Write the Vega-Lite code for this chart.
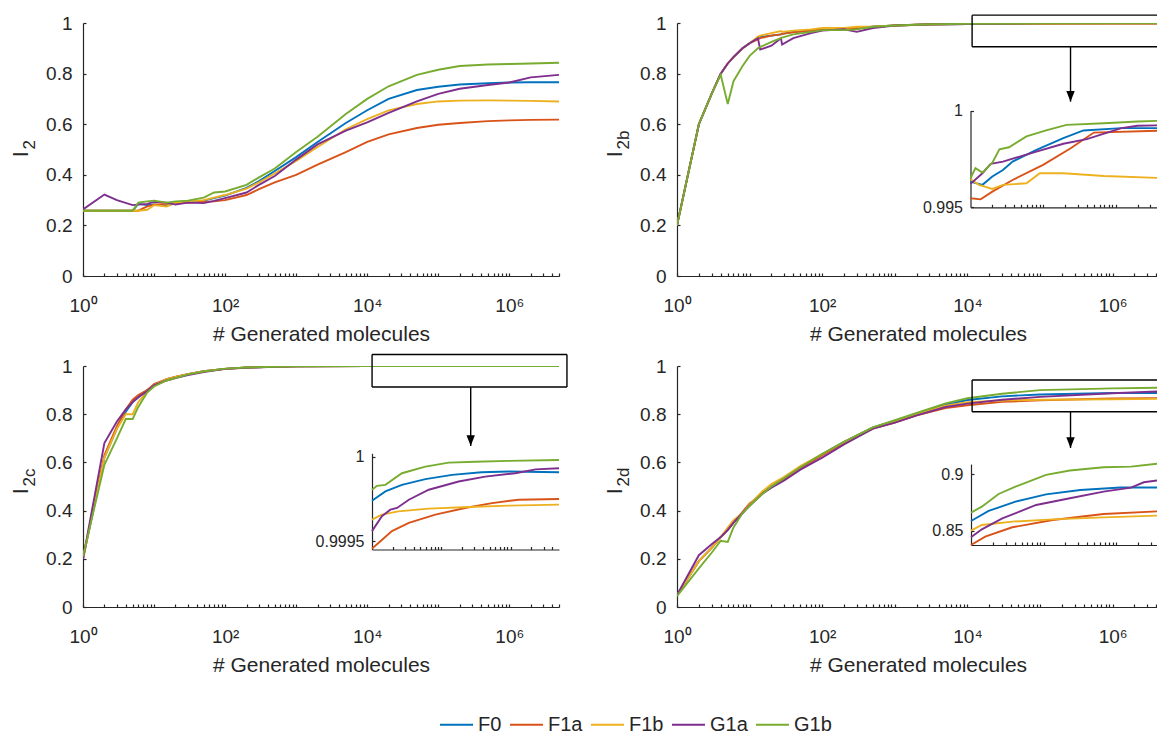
{
 "$schema": "https://vega.github.io/schema/vega-lite/v6.json",
 "padding": {"left": 9, "top": 14, "right": 0, "bottom": 0},
 "columns": 2,
 "spacing": {"row": 90, "column": 118},
 "bounds": "flush",
 "datasets": {
  "main": [
   {"p":"a","s":"F0","n":1,"v":0.258},{"p":"a","s":"F0","n":2,"v":0.258},{"p":"a","s":"F0","n":3,"v":0.258},{"p":"a","s":"F0","n":5,"v":0.258},{"p":"a","s":"F0","n":6,"v":0.285},{"p":"a","s":"F0","n":8,"v":0.28},{"p":"a","s":"F0","n":10,"v":0.283},{"p":"a","s":"F0","n":15,"v":0.278},{"p":"a","s":"F0","n":20,"v":0.288},{"p":"a","s":"F0","n":30,"v":0.292},{"p":"a","s":"F0","n":50,"v":0.298},{"p":"a","s":"F0","n":70,"v":0.308},{"p":"a","s":"F0","n":100,"v":0.318},{"p":"a","s":"F0","n":200,"v":0.348},{"p":"a","s":"F0","n":300,"v":0.375},{"p":"a","s":"F0","n":500,"v":0.415},{"p":"a","s":"F0","n":1000,"v":0.47},{"p":"a","s":"F0","n":2000,"v":0.53},{"p":"a","s":"F0","n":5000,"v":0.605},{"p":"a","s":"F0","n":10000,"v":0.655},{"p":"a","s":"F0","n":20000,"v":0.7},{"p":"a","s":"F0","n":50000,"v":0.735},{"p":"a","s":"F0","n":100000,"v":0.748},{"p":"a","s":"F0","n":200000,"v":0.757},{"p":"a","s":"F0","n":500000,"v":0.762},{"p":"a","s":"F0","n":1000000,"v":0.765},{"p":"a","s":"F0","n":2000000,"v":0.766},{"p":"a","s":"F0","n":5000000,"v":0.766},
   {"p":"a","s":"F1a","n":1,"v":0.258},{"p":"a","s":"F1a","n":2,"v":0.258},{"p":"a","s":"F1a","n":3,"v":0.258},{"p":"a","s":"F1a","n":5,"v":0.258},{"p":"a","s":"F1a","n":6,"v":0.258},{"p":"a","s":"F1a","n":8,"v":0.275},{"p":"a","s":"F1a","n":10,"v":0.282},{"p":"a","s":"F1a","n":15,"v":0.285},{"p":"a","s":"F1a","n":20,"v":0.288},{"p":"a","s":"F1a","n":30,"v":0.29},{"p":"a","s":"F1a","n":50,"v":0.293},{"p":"a","s":"F1a","n":70,"v":0.295},{"p":"a","s":"F1a","n":100,"v":0.3},{"p":"a","s":"F1a","n":200,"v":0.32},{"p":"a","s":"F1a","n":300,"v":0.343},{"p":"a","s":"F1a","n":500,"v":0.37},{"p":"a","s":"F1a","n":1000,"v":0.4},{"p":"a","s":"F1a","n":2000,"v":0.44},{"p":"a","s":"F1a","n":5000,"v":0.49},{"p":"a","s":"F1a","n":10000,"v":0.53},{"p":"a","s":"F1a","n":20000,"v":0.56},{"p":"a","s":"F1a","n":50000,"v":0.585},{"p":"a","s":"F1a","n":100000,"v":0.598},{"p":"a","s":"F1a","n":200000,"v":0.605},{"p":"a","s":"F1a","n":500000,"v":0.612},{"p":"a","s":"F1a","n":1000000,"v":0.615},{"p":"a","s":"F1a","n":2000000,"v":0.617},{"p":"a","s":"F1a","n":5000000,"v":0.618},
   {"p":"a","s":"F1b","n":1,"v":0.258},{"p":"a","s":"F1b","n":2,"v":0.258},{"p":"a","s":"F1b","n":3,"v":0.258},{"p":"a","s":"F1b","n":5,"v":0.258},{"p":"a","s":"F1b","n":6,"v":0.258},{"p":"a","s":"F1b","n":8,"v":0.262},{"p":"a","s":"F1b","n":10,"v":0.28},{"p":"a","s":"F1b","n":15,"v":0.275},{"p":"a","s":"F1b","n":20,"v":0.29},{"p":"a","s":"F1b","n":30,"v":0.295},{"p":"a","s":"F1b","n":50,"v":0.3},{"p":"a","s":"F1b","n":70,"v":0.31},{"p":"a","s":"F1b","n":100,"v":0.32},{"p":"a","s":"F1b","n":200,"v":0.345},{"p":"a","s":"F1b","n":300,"v":0.37},{"p":"a","s":"F1b","n":500,"v":0.405},{"p":"a","s":"F1b","n":1000,"v":0.455},{"p":"a","s":"F1b","n":2000,"v":0.51},{"p":"a","s":"F1b","n":5000,"v":0.58},{"p":"a","s":"F1b","n":10000,"v":0.62},{"p":"a","s":"F1b","n":20000,"v":0.655},{"p":"a","s":"F1b","n":50000,"v":0.68},{"p":"a","s":"F1b","n":100000,"v":0.69},{"p":"a","s":"F1b","n":200000,"v":0.693},{"p":"a","s":"F1b","n":500000,"v":0.694},{"p":"a","s":"F1b","n":1000000,"v":0.693},{"p":"a","s":"F1b","n":2000000,"v":0.692},{"p":"a","s":"F1b","n":5000000,"v":0.69},
   {"p":"a","s":"G1a","n":1,"v":0.263},{"p":"a","s":"G1a","n":2,"v":0.322},{"p":"a","s":"G1a","n":3,"v":0.3},{"p":"a","s":"G1a","n":5,"v":0.28},{"p":"a","s":"G1a","n":6,"v":0.282},{"p":"a","s":"G1a","n":8,"v":0.285},{"p":"a","s":"G1a","n":10,"v":0.293},{"p":"a","s":"G1a","n":15,"v":0.29},{"p":"a","s":"G1a","n":20,"v":0.282},{"p":"a","s":"G1a","n":30,"v":0.29},{"p":"a","s":"G1a","n":50,"v":0.288},{"p":"a","s":"G1a","n":70,"v":0.297},{"p":"a","s":"G1a","n":100,"v":0.308},{"p":"a","s":"G1a","n":200,"v":0.33},{"p":"a","s":"G1a","n":300,"v":0.36},{"p":"a","s":"G1a","n":500,"v":0.395},{"p":"a","s":"G1a","n":1000,"v":0.46},{"p":"a","s":"G1a","n":2000,"v":0.52},{"p":"a","s":"G1a","n":5000,"v":0.575},{"p":"a","s":"G1a","n":10000,"v":0.607},{"p":"a","s":"G1a","n":20000,"v":0.645},{"p":"a","s":"G1a","n":50000,"v":0.69},{"p":"a","s":"G1a","n":100000,"v":0.72},{"p":"a","s":"G1a","n":200000,"v":0.74},{"p":"a","s":"G1a","n":500000,"v":0.755},{"p":"a","s":"G1a","n":1000000,"v":0.765},{"p":"a","s":"G1a","n":2000000,"v":0.785},{"p":"a","s":"G1a","n":5000000,"v":0.795},
   {"p":"a","s":"G1b","n":1,"v":0.258},{"p":"a","s":"G1b","n":2,"v":0.258},{"p":"a","s":"G1b","n":3,"v":0.258},{"p":"a","s":"G1b","n":5,"v":0.258},{"p":"a","s":"G1b","n":6,"v":0.29},{"p":"a","s":"G1b","n":8,"v":0.295},{"p":"a","s":"G1b","n":10,"v":0.298},{"p":"a","s":"G1b","n":15,"v":0.29},{"p":"a","s":"G1b","n":20,"v":0.295},{"p":"a","s":"G1b","n":30,"v":0.298},{"p":"a","s":"G1b","n":50,"v":0.31},{"p":"a","s":"G1b","n":70,"v":0.33},{"p":"a","s":"G1b","n":100,"v":0.334},{"p":"a","s":"G1b","n":200,"v":0.36},{"p":"a","s":"G1b","n":300,"v":0.39},{"p":"a","s":"G1b","n":500,"v":0.425},{"p":"a","s":"G1b","n":1000,"v":0.49},{"p":"a","s":"G1b","n":2000,"v":0.55},{"p":"a","s":"G1b","n":5000,"v":0.64},{"p":"a","s":"G1b","n":10000,"v":0.7},{"p":"a","s":"G1b","n":20000,"v":0.75},{"p":"a","s":"G1b","n":50000,"v":0.795},{"p":"a","s":"G1b","n":100000,"v":0.815},{"p":"a","s":"G1b","n":200000,"v":0.83},{"p":"a","s":"G1b","n":500000,"v":0.836},{"p":"a","s":"G1b","n":1000000,"v":0.838},{"p":"a","s":"G1b","n":2000000,"v":0.84},{"p":"a","s":"G1b","n":5000000,"v":0.843},

   {"p":"b","s":"F0","n":1,"v":0.2},{"p":"b","s":"F0","n":2,"v":0.6},{"p":"b","s":"F0","n":3,"v":0.72},{"p":"b","s":"F0","n":4,"v":0.8},{"p":"b","s":"F0","n":5,"v":0.84},{"p":"b","s":"F0","n":6,"v":0.865},{"p":"b","s":"F0","n":8,"v":0.9},{"p":"b","s":"F0","n":10,"v":0.92},{"p":"b","s":"F0","n":13,"v":0.94},{"p":"b","s":"F0","n":14,"v":0.945},{"p":"b","s":"F0","n":20,"v":0.95},{"p":"b","s":"F0","n":27,"v":0.955},{"p":"b","s":"F0","n":28,"v":0.957},{"p":"b","s":"F0","n":40,"v":0.965},{"p":"b","s":"F0","n":70,"v":0.97},{"p":"b","s":"F0","n":100,"v":0.975},{"p":"b","s":"F0","n":200,"v":0.975},{"p":"b","s":"F0","n":300,"v":0.98},{"p":"b","s":"F0","n":500,"v":0.985},{"p":"b","s":"F0","n":1000,"v":0.99},{"p":"b","s":"F0","n":3000,"v":0.994},{"p":"b","s":"F0","n":10000,"v":0.9963},{"p":"b","s":"F0","n":100000,"v":0.9985},{"p":"b","s":"F0","n":1000000,"v":0.9991},{"p":"b","s":"F0","n":5000000,"v":0.9991},
   {"p":"b","s":"F1a","n":1,"v":0.2},{"p":"b","s":"F1a","n":2,"v":0.6},{"p":"b","s":"F1a","n":3,"v":0.72},{"p":"b","s":"F1a","n":4,"v":0.8},{"p":"b","s":"F1a","n":5,"v":0.84},{"p":"b","s":"F1a","n":6,"v":0.865},{"p":"b","s":"F1a","n":8,"v":0.9},{"p":"b","s":"F1a","n":10,"v":0.92},{"p":"b","s":"F1a","n":13,"v":0.935},{"p":"b","s":"F1a","n":14,"v":0.94},{"p":"b","s":"F1a","n":20,"v":0.95},{"p":"b","s":"F1a","n":27,"v":0.955},{"p":"b","s":"F1a","n":28,"v":0.957},{"p":"b","s":"F1a","n":40,"v":0.963},{"p":"b","s":"F1a","n":70,"v":0.97},{"p":"b","s":"F1a","n":100,"v":0.975},{"p":"b","s":"F1a","n":200,"v":0.978},{"p":"b","s":"F1a","n":300,"v":0.98},{"p":"b","s":"F1a","n":500,"v":0.985},{"p":"b","s":"F1a","n":1000,"v":0.99},{"p":"b","s":"F1a","n":3000,"v":0.994},{"p":"b","s":"F1a","n":10000,"v":0.9955},{"p":"b","s":"F1a","n":100000,"v":0.9972},{"p":"b","s":"F1a","n":1000000,"v":0.999},{"p":"b","s":"F1a","n":5000000,"v":0.999},
   {"p":"b","s":"F1b","n":1,"v":0.2},{"p":"b","s":"F1b","n":2,"v":0.6},{"p":"b","s":"F1b","n":3,"v":0.72},{"p":"b","s":"F1b","n":4,"v":0.8},{"p":"b","s":"F1b","n":5,"v":0.84},{"p":"b","s":"F1b","n":6,"v":0.865},{"p":"b","s":"F1b","n":8,"v":0.9},{"p":"b","s":"F1b","n":10,"v":0.92},{"p":"b","s":"F1b","n":13,"v":0.945},{"p":"b","s":"F1b","n":14,"v":0.95},{"p":"b","s":"F1b","n":20,"v":0.96},{"p":"b","s":"F1b","n":27,"v":0.968},{"p":"b","s":"F1b","n":28,"v":0.965},{"p":"b","s":"F1b","n":40,"v":0.97},{"p":"b","s":"F1b","n":70,"v":0.975},{"p":"b","s":"F1b","n":100,"v":0.98},{"p":"b","s":"F1b","n":200,"v":0.98},{"p":"b","s":"F1b","n":300,"v":0.985},{"p":"b","s":"F1b","n":500,"v":0.985},{"p":"b","s":"F1b","n":1000,"v":0.99},{"p":"b","s":"F1b","n":3000,"v":0.995},{"p":"b","s":"F1b","n":10000,"v":0.9965},{"p":"b","s":"F1b","n":100000,"v":0.9968},{"p":"b","s":"F1b","n":1000000,"v":0.9966},{"p":"b","s":"F1b","n":5000000,"v":0.9965},
   {"p":"b","s":"G1a","n":1,"v":0.2},{"p":"b","s":"G1a","n":2,"v":0.6},{"p":"b","s":"G1a","n":3,"v":0.72},{"p":"b","s":"G1a","n":4,"v":0.8},{"p":"b","s":"G1a","n":5,"v":0.84},{"p":"b","s":"G1a","n":6,"v":0.865},{"p":"b","s":"G1a","n":8,"v":0.9},{"p":"b","s":"G1a","n":10,"v":0.92},{"p":"b","s":"G1a","n":13,"v":0.94},{"p":"b","s":"G1a","n":14,"v":0.895},{"p":"b","s":"G1a","n":20,"v":0.91},{"p":"b","s":"G1a","n":27,"v":0.94},{"p":"b","s":"G1a","n":28,"v":0.915},{"p":"b","s":"G1a","n":40,"v":0.94},{"p":"b","s":"G1a","n":70,"v":0.96},{"p":"b","s":"G1a","n":100,"v":0.97},{"p":"b","s":"G1a","n":200,"v":0.975},{"p":"b","s":"G1a","n":300,"v":0.965},{"p":"b","s":"G1a","n":500,"v":0.98},{"p":"b","s":"G1a","n":1000,"v":0.99},{"p":"b","s":"G1a","n":3000,"v":0.995},{"p":"b","s":"G1a","n":10000,"v":0.9962},{"p":"b","s":"G1a","n":100000,"v":0.9985},{"p":"b","s":"G1a","n":1000000,"v":0.9991},{"p":"b","s":"G1a","n":5000000,"v":0.9992},
   {"p":"b","s":"G1b","n":1,"v":0.2},{"p":"b","s":"G1b","n":2,"v":0.6},{"p":"b","s":"G1b","n":3,"v":0.72},{"p":"b","s":"G1b","n":4,"v":0.795},{"p":"b","s":"G1b","n":5,"v":0.68},{"p":"b","s":"G1b","n":6,"v":0.77},{"p":"b","s":"G1b","n":8,"v":0.83},{"p":"b","s":"G1b","n":10,"v":0.87},{"p":"b","s":"G1b","n":13,"v":0.9},{"p":"b","s":"G1b","n":14,"v":0.905},{"p":"b","s":"G1b","n":20,"v":0.925},{"p":"b","s":"G1b","n":27,"v":0.94},{"p":"b","s":"G1b","n":28,"v":0.942},{"p":"b","s":"G1b","n":40,"v":0.955},{"p":"b","s":"G1b","n":70,"v":0.965},{"p":"b","s":"G1b","n":100,"v":0.972},{"p":"b","s":"G1b","n":200,"v":0.972},{"p":"b","s":"G1b","n":300,"v":0.975},{"p":"b","s":"G1b","n":500,"v":0.985},{"p":"b","s":"G1b","n":1000,"v":0.99},{"p":"b","s":"G1b","n":3000,"v":0.995},{"p":"b","s":"G1b","n":10000,"v":0.9965},{"p":"b","s":"G1b","n":100000,"v":0.999},{"p":"b","s":"G1b","n":1000000,"v":0.9994},{"p":"b","s":"G1b","n":5000000,"v":0.9995},

   {"p":"c","s":"F0","n":1,"v":0.2},{"p":"c","s":"F0","n":2,"v":0.62},{"p":"c","s":"F0","n":3,"v":0.74},{"p":"c","s":"F0","n":4,"v":0.81},{"p":"c","s":"F0","n":5,"v":0.85},{"p":"c","s":"F0","n":6,"v":0.87},{"p":"c","s":"F0","n":8,"v":0.9},{"p":"c","s":"F0","n":10,"v":0.92},{"p":"c","s":"F0","n":15,"v":0.945},{"p":"c","s":"F0","n":20,"v":0.955},{"p":"c","s":"F0","n":30,"v":0.966},{"p":"c","s":"F0","n":50,"v":0.978},{"p":"c","s":"F0","n":100,"v":0.988},{"p":"c","s":"F0","n":200,"v":0.994},{"p":"c","s":"F0","n":500,"v":0.997},{"p":"c","s":"F0","n":1000,"v":0.9985},{"p":"c","s":"F0","n":10000,"v":0.99974},{"p":"c","s":"F0","n":100000,"v":0.9999},{"p":"c","s":"F0","n":1000000,"v":0.99991},{"p":"c","s":"F0","n":5000000,"v":0.99991},
   {"p":"c","s":"F1a","n":1,"v":0.2},{"p":"c","s":"F1a","n":2,"v":0.63},{"p":"c","s":"F1a","n":3,"v":0.75},{"p":"c","s":"F1a","n":4,"v":0.82},{"p":"c","s":"F1a","n":5,"v":0.86},{"p":"c","s":"F1a","n":6,"v":0.88},{"p":"c","s":"F1a","n":8,"v":0.9},{"p":"c","s":"F1a","n":10,"v":0.925},{"p":"c","s":"F1a","n":15,"v":0.945},{"p":"c","s":"F1a","n":20,"v":0.955},{"p":"c","s":"F1a","n":30,"v":0.966},{"p":"c","s":"F1a","n":50,"v":0.978},{"p":"c","s":"F1a","n":100,"v":0.988},{"p":"c","s":"F1a","n":200,"v":0.994},{"p":"c","s":"F1a","n":500,"v":0.997},{"p":"c","s":"F1a","n":1000,"v":0.9985},{"p":"c","s":"F1a","n":10000,"v":0.99946},{"p":"c","s":"F1a","n":100000,"v":0.99967},{"p":"c","s":"F1a","n":1000000,"v":0.99974},{"p":"c","s":"F1a","n":5000000,"v":0.99975},
   {"p":"c","s":"F1b","n":1,"v":0.2},{"p":"c","s":"F1b","n":2,"v":0.62},{"p":"c","s":"F1b","n":3,"v":0.74},{"p":"c","s":"F1b","n":4,"v":0.8},{"p":"c","s":"F1b","n":5,"v":0.8},{"p":"c","s":"F1b","n":6,"v":0.85},{"p":"c","s":"F1b","n":8,"v":0.895},{"p":"c","s":"F1b","n":10,"v":0.92},{"p":"c","s":"F1b","n":15,"v":0.945},{"p":"c","s":"F1b","n":20,"v":0.955},{"p":"c","s":"F1b","n":30,"v":0.966},{"p":"c","s":"F1b","n":50,"v":0.978},{"p":"c","s":"F1b","n":100,"v":0.988},{"p":"c","s":"F1b","n":200,"v":0.994},{"p":"c","s":"F1b","n":500,"v":0.997},{"p":"c","s":"F1b","n":1000,"v":0.9985},{"p":"c","s":"F1b","n":10000,"v":0.99963},{"p":"c","s":"F1b","n":100000,"v":0.9997},{"p":"c","s":"F1b","n":1000000,"v":0.99971},{"p":"c","s":"F1b","n":5000000,"v":0.99972},
   {"p":"c","s":"G1a","n":1,"v":0.2},{"p":"c","s":"G1a","n":2,"v":0.68},{"p":"c","s":"G1a","n":3,"v":0.77},{"p":"c","s":"G1a","n":4,"v":0.82},{"p":"c","s":"G1a","n":5,"v":0.85},{"p":"c","s":"G1a","n":6,"v":0.87},{"p":"c","s":"G1a","n":8,"v":0.895},{"p":"c","s":"G1a","n":10,"v":0.92},{"p":"c","s":"G1a","n":15,"v":0.94},{"p":"c","s":"G1a","n":20,"v":0.95},{"p":"c","s":"G1a","n":30,"v":0.962},{"p":"c","s":"G1a","n":50,"v":0.975},{"p":"c","s":"G1a","n":100,"v":0.988},{"p":"c","s":"G1a","n":200,"v":0.993},{"p":"c","s":"G1a","n":500,"v":0.997},{"p":"c","s":"G1a","n":1000,"v":0.9985},{"p":"c","s":"G1a","n":10000,"v":0.99956},{"p":"c","s":"G1a","n":100000,"v":0.9998},{"p":"c","s":"G1a","n":1000000,"v":0.99991},{"p":"c","s":"G1a","n":5000000,"v":0.99993},
   {"p":"c","s":"G1b","n":1,"v":0.21},{"p":"c","s":"G1b","n":2,"v":0.59},{"p":"c","s":"G1b","n":3,"v":0.7},{"p":"c","s":"G1b","n":4,"v":0.78},{"p":"c","s":"G1b","n":5,"v":0.78},{"p":"c","s":"G1b","n":6,"v":0.83},{"p":"c","s":"G1b","n":8,"v":0.89},{"p":"c","s":"G1b","n":10,"v":0.915},{"p":"c","s":"G1b","n":15,"v":0.94},{"p":"c","s":"G1b","n":20,"v":0.95},{"p":"c","s":"G1b","n":30,"v":0.965},{"p":"c","s":"G1b","n":50,"v":0.977},{"p":"c","s":"G1b","n":100,"v":0.989},{"p":"c","s":"G1b","n":200,"v":0.994},{"p":"c","s":"G1b","n":500,"v":0.997},{"p":"c","s":"G1b","n":1000,"v":0.9986},{"p":"c","s":"G1b","n":10000,"v":0.9998},{"p":"c","s":"G1b","n":100000,"v":0.99996},{"p":"c","s":"G1b","n":1000000,"v":0.99997},{"p":"c","s":"G1b","n":5000000,"v":0.99998},

   {"p":"d","s":"F0","n":1,"v":0.05},{"p":"d","s":"F0","n":2,"v":0.19},{"p":"d","s":"F0","n":3,"v":0.245},{"p":"d","s":"F0","n":4,"v":0.29},{"p":"d","s":"F0","n":5,"v":0.32},{"p":"d","s":"F0","n":6,"v":0.35},{"p":"d","s":"F0","n":8,"v":0.39},{"p":"d","s":"F0","n":10,"v":0.425},{"p":"d","s":"F0","n":15,"v":0.475},{"p":"d","s":"F0","n":20,"v":0.5},{"p":"d","s":"F0","n":30,"v":0.535},{"p":"d","s":"F0","n":50,"v":0.58},{"p":"d","s":"F0","n":100,"v":0.635},{"p":"d","s":"F0","n":200,"v":0.685},{"p":"d","s":"F0","n":500,"v":0.745},{"p":"d","s":"F0","n":1000,"v":0.772},{"p":"d","s":"F0","n":2000,"v":0.8},{"p":"d","s":"F0","n":5000,"v":0.84},{"p":"d","s":"F0","n":10000,"v":0.859},{"p":"d","s":"F0","n":30000,"v":0.874},{"p":"d","s":"F0","n":100000,"v":0.882},{"p":"d","s":"F0","n":1000000,"v":0.888},{"p":"d","s":"F0","n":5000000,"v":0.888},
   {"p":"d","s":"F1a","n":1,"v":0.05},{"p":"d","s":"F1a","n":2,"v":0.19},{"p":"d","s":"F1a","n":3,"v":0.245},{"p":"d","s":"F1a","n":4,"v":0.29},{"p":"d","s":"F1a","n":5,"v":0.32},{"p":"d","s":"F1a","n":6,"v":0.35},{"p":"d","s":"F1a","n":8,"v":0.395},{"p":"d","s":"F1a","n":10,"v":0.43},{"p":"d","s":"F1a","n":15,"v":0.47},{"p":"d","s":"F1a","n":20,"v":0.5},{"p":"d","s":"F1a","n":30,"v":0.53},{"p":"d","s":"F1a","n":50,"v":0.575},{"p":"d","s":"F1a","n":100,"v":0.63},{"p":"d","s":"F1a","n":200,"v":0.68},{"p":"d","s":"F1a","n":500,"v":0.74},{"p":"d","s":"F1a","n":1000,"v":0.765},{"p":"d","s":"F1a","n":2000,"v":0.795},{"p":"d","s":"F1a","n":5000,"v":0.825},{"p":"d","s":"F1a","n":10000,"v":0.837},{"p":"d","s":"F1a","n":30000,"v":0.851},{"p":"d","s":"F1a","n":100000,"v":0.858},{"p":"d","s":"F1a","n":1000000,"v":0.865},{"p":"d","s":"F1a","n":5000000,"v":0.867},
   {"p":"d","s":"F1b","n":1,"v":0.05},{"p":"d","s":"F1b","n":2,"v":0.19},{"p":"d","s":"F1b","n":3,"v":0.245},{"p":"d","s":"F1b","n":4,"v":0.29},{"p":"d","s":"F1b","n":5,"v":0.33},{"p":"d","s":"F1b","n":6,"v":0.36},{"p":"d","s":"F1b","n":8,"v":0.39},{"p":"d","s":"F1b","n":10,"v":0.425},{"p":"d","s":"F1b","n":15,"v":0.48},{"p":"d","s":"F1b","n":20,"v":0.51},{"p":"d","s":"F1b","n":30,"v":0.54},{"p":"d","s":"F1b","n":50,"v":0.585},{"p":"d","s":"F1b","n":100,"v":0.635},{"p":"d","s":"F1b","n":200,"v":0.685},{"p":"d","s":"F1b","n":500,"v":0.745},{"p":"d","s":"F1b","n":1000,"v":0.77},{"p":"d","s":"F1b","n":2000,"v":0.8},{"p":"d","s":"F1b","n":5000,"v":0.835},{"p":"d","s":"F1b","n":10000,"v":0.85},{"p":"d","s":"F1b","n":30000,"v":0.857},{"p":"d","s":"F1b","n":100000,"v":0.86},{"p":"d","s":"F1b","n":1000000,"v":0.862},{"p":"d","s":"F1b","n":5000000,"v":0.864},
   {"p":"d","s":"G1a","n":1,"v":0.05},{"p":"d","s":"G1a","n":2,"v":0.215},{"p":"d","s":"G1a","n":3,"v":0.26},{"p":"d","s":"G1a","n":4,"v":0.29},{"p":"d","s":"G1a","n":5,"v":0.32},{"p":"d","s":"G1a","n":6,"v":0.35},{"p":"d","s":"G1a","n":8,"v":0.39},{"p":"d","s":"G1a","n":10,"v":0.42},{"p":"d","s":"G1a","n":15,"v":0.47},{"p":"d","s":"G1a","n":20,"v":0.495},{"p":"d","s":"G1a","n":30,"v":0.525},{"p":"d","s":"G1a","n":50,"v":0.57},{"p":"d","s":"G1a","n":100,"v":0.62},{"p":"d","s":"G1a","n":200,"v":0.675},{"p":"d","s":"G1a","n":500,"v":0.74},{"p":"d","s":"G1a","n":1000,"v":0.765},{"p":"d","s":"G1a","n":2000,"v":0.795},{"p":"d","s":"G1a","n":5000,"v":0.83},{"p":"d","s":"G1a","n":10000,"v":0.844},{"p":"d","s":"G1a","n":30000,"v":0.86},{"p":"d","s":"G1a","n":100000,"v":0.872},{"p":"d","s":"G1a","n":1000000,"v":0.887},{"p":"d","s":"G1a","n":5000000,"v":0.895},
   {"p":"d","s":"G1b","n":1,"v":0.045},{"p":"d","s":"G1b","n":2,"v":0.16},{"p":"d","s":"G1b","n":3,"v":0.225},{"p":"d","s":"G1b","n":4,"v":0.275},{"p":"d","s":"G1b","n":5,"v":0.27},{"p":"d","s":"G1b","n":6,"v":0.33},{"p":"d","s":"G1b","n":8,"v":0.39},{"p":"d","s":"G1b","n":10,"v":0.42},{"p":"d","s":"G1b","n":15,"v":0.47},{"p":"d","s":"G1b","n":20,"v":0.5},{"p":"d","s":"G1b","n":30,"v":0.535},{"p":"d","s":"G1b","n":50,"v":0.58},{"p":"d","s":"G1b","n":100,"v":0.635},{"p":"d","s":"G1b","n":200,"v":0.685},{"p":"d","s":"G1b","n":500,"v":0.745},{"p":"d","s":"G1b","n":1000,"v":0.775},{"p":"d","s":"G1b","n":2000,"v":0.805},{"p":"d","s":"G1b","n":5000,"v":0.845},{"p":"d","s":"G1b","n":10000,"v":0.866},{"p":"d","s":"G1b","n":30000,"v":0.885},{"p":"d","s":"G1b","n":100000,"v":0.9},{"p":"d","s":"G1b","n":1000000,"v":0.907},{"p":"d","s":"G1b","n":5000000,"v":0.91}
  ],
  "inset": [
   {"p":"b","s":"F0","n":10000,"v":0.99633},{"p":"b","s":"F0","n":14600,"v":0.99616},{"p":"b","s":"F0","n":20000,"v":0.99659},{"p":"b","s":"F0","n":28000,"v":0.99693},{"p":"b","s":"F0","n":38000,"v":0.99736},{"p":"b","s":"F0","n":81000,"v":0.99797},{"p":"b","s":"F0","n":190000,"v":0.99857},{"p":"b","s":"F0","n":360000,"v":0.99897},{"p":"b","s":"F0","n":1200000,"v":0.99909},{"p":"b","s":"F0","n":5000000,"v":0.99909},
   {"p":"b","s":"F1a","n":10000,"v":0.99547},{"p":"b","s":"F1a","n":13800,"v":0.99541},{"p":"b","s":"F1a","n":20000,"v":0.99581},{"p":"b","s":"F1a","n":38000,"v":0.99641},{"p":"b","s":"F1a","n":100000,"v":0.99719},{"p":"b","s":"F1a","n":240000,"v":0.99805},{"p":"b","s":"F1a","n":500000,"v":0.99886},{"p":"b","s":"F1a","n":5000000,"v":0.99897},
   {"p":"b","s":"F1b","n":10000,"v":0.99645},{"p":"b","s":"F1b","n":13100,"v":0.99616},{"p":"b","s":"F1b","n":20000,"v":0.99595},{"p":"b","s":"F1b","n":28000,"v":0.99616},{"p":"b","s":"F1b","n":59000,"v":0.99624},{"p":"b","s":"F1b","n":90000,"v":0.99676},{"p":"b","s":"F1b","n":190000,"v":0.99676},{"p":"b","s":"F1b","n":690000,"v":0.99662},{"p":"b","s":"F1b","n":5000000,"v":0.9965},
   {"p":"b","s":"G1a","n":10000,"v":0.99621},{"p":"b","s":"G1a","n":14600,"v":0.99676},{"p":"b","s":"G1a","n":19000,"v":0.99724},{"p":"b","s":"G1a","n":28000,"v":0.99736},{"p":"b","s":"G1a","n":81000,"v":0.99788},{"p":"b","s":"G1a","n":190000,"v":0.99828},{"p":"b","s":"G1a","n":400000,"v":0.99852},{"p":"b","s":"G1a","n":1200000,"v":0.99909},{"p":"b","s":"G1a","n":2000000,"v":0.99921},{"p":"b","s":"G1a","n":5000000,"v":0.99924},
   {"p":"b","s":"G1b","n":10000,"v":0.9965},{"p":"b","s":"G1b","n":11700,"v":0.99702},{"p":"b","s":"G1b","n":14600,"v":0.99679},{"p":"b","s":"G1b","n":20000,"v":0.9973},{"p":"b","s":"G1b","n":25000,"v":0.998},{"p":"b","s":"G1b","n":34000,"v":0.9981},{"p":"b","s":"G1b","n":59000,"v":0.99866},{"p":"b","s":"G1b","n":110000,"v":0.99897},{"p":"b","s":"G1b","n":210000,"v":0.99926},{"p":"b","s":"G1b","n":690000,"v":0.99934},{"p":"b","s":"G1b","n":2000000,"v":0.99943},{"p":"b","s":"G1b","n":5000000,"v":0.99948},

   {"p":"c","s":"F0","n":10000,"v":0.999739},{"p":"c","s":"F0","n":15600,"v":0.999794},{"p":"c","s":"F0","n":27000,"v":0.999833},{"p":"c","s":"F0","n":59000,"v":0.999867},{"p":"c","s":"F0","n":143000,"v":0.999892},{"p":"c","s":"F0","n":380000,"v":0.999908},{"p":"c","s":"F0","n":940000,"v":0.999912},{"p":"c","s":"F0","n":5000000,"v":0.999908},
   {"p":"c","s":"F1a","n":10000,"v":0.999455},{"p":"c","s":"F1a","n":12500,"v":0.99949},{"p":"c","s":"F1a","n":19400,"v":0.999559},{"p":"c","s":"F1a","n":34000,"v":0.999608},{"p":"c","s":"F1a","n":82000,"v":0.999657},{"p":"c","s":"F1a","n":220000,"v":0.999696},{"p":"c","s":"F1a","n":540000,"v":0.999725},{"p":"c","s":"F1a","n":1300000,"v":0.999745},{"p":"c","s":"F1a","n":5000000,"v":0.999749},
   {"p":"c","s":"F1b","n":10000,"v":0.999627},{"p":"c","s":"F1b","n":13900,"v":0.999657},{"p":"c","s":"F1b","n":24000,"v":0.999676},{"p":"c","s":"F1b","n":66000,"v":0.999692},{"p":"c","s":"F1b","n":250000,"v":0.999702},{"p":"c","s":"F1b","n":940000,"v":0.99971},{"p":"c","s":"F1b","n":5000000,"v":0.999716},
   {"p":"c","s":"G1a","n":10000,"v":0.999559},{"p":"c","s":"G1a","n":13900,"v":0.999647},{"p":"c","s":"G1a","n":18400,"v":0.999686},{"p":"c","s":"G1a","n":23000,"v":0.999696},{"p":"c","s":"G1a","n":34000,"v":0.999745},{"p":"c","s":"G1a","n":66000,"v":0.999804},{"p":"c","s":"G1a","n":178000,"v":0.999853},{"p":"c","s":"G1a","n":430000,"v":0.999882},{"p":"c","s":"G1a","n":1170000,"v":0.999902},{"p":"c","s":"G1a","n":2300000,"v":0.999925},{"p":"c","s":"G1a","n":5000000,"v":0.999931},
   {"p":"c","s":"G1b","n":10000,"v":0.999804},{"p":"c","s":"G1b","n":11800,"v":0.999827},{"p":"c","s":"G1b","n":15600,"v":0.999833},{"p":"c","s":"G1b","n":27000,"v":0.999902},{"p":"c","s":"G1b","n":59000,"v":0.999941},{"p":"c","s":"G1b","n":128000,"v":0.999965},{"p":"c","s":"G1b","n":310000,"v":0.99997},{"p":"c","s":"G1b","n":940000,"v":0.999975},{"p":"c","s":"G1b","n":5000000,"v":0.99998},

   {"p":"d","s":"F0","n":10000,"v":0.8586},{"p":"d","s":"F0","n":17500,"v":0.8675},{"p":"d","s":"F0","n":41000,"v":0.8757},{"p":"d","s":"F0","n":108000,"v":0.8822},{"p":"d","s":"F0","n":320000,"v":0.8861},{"p":"d","s":"F0","n":1150000,"v":0.8882},{"p":"d","s":"F0","n":5000000,"v":0.8882},
   {"p":"d","s":"F1a","n":10000,"v":0.8373},{"p":"d","s":"F1a","n":15700,"v":0.8447},{"p":"d","s":"F1a","n":37000,"v":0.853},{"p":"d","s":"F1a","n":134000,"v":0.8595},{"p":"d","s":"F1a","n":670000,"v":0.8648},{"p":"d","s":"F1a","n":5000000,"v":0.8675},
   {"p":"d","s":"F1b","n":10000,"v":0.85},{"p":"d","s":"F1b","n":14100,"v":0.855},{"p":"d","s":"F1b","n":37000,"v":0.858},{"p":"d","s":"F1b","n":134000,"v":0.86},{"p":"d","s":"F1b","n":670000,"v":0.8618},{"p":"d","s":"F1b","n":5000000,"v":0.8636},
   {"p":"d","s":"G1a","n":10000,"v":0.8441},{"p":"d","s":"G1a","n":14100,"v":0.8512},{"p":"d","s":"G1a","n":27000,"v":0.8609},{"p":"d","s":"G1a","n":79000,"v":0.8728},{"p":"d","s":"G1a","n":230000,"v":0.8787},{"p":"d","s":"G1a","n":670000,"v":0.8846},{"p":"d","s":"G1a","n":1600000,"v":0.8882},{"p":"d","s":"G1a","n":2400000,"v":0.8929},{"p":"d","s":"G1a","n":4300000,"v":0.895},{"p":"d","s":"G1a","n":5000000,"v":0.8955},
   {"p":"d","s":"G1b","n":10000,"v":0.866},{"p":"d","s":"G1b","n":14100,"v":0.8713},{"p":"d","s":"G1b","n":24000,"v":0.8825},{"p":"d","s":"G1b","n":41000,"v":0.889},{"p":"d","s":"G1b","n":108000,"v":0.8994},{"p":"d","s":"G1b","n":230000,"v":0.9033},{"p":"d","s":"G1b","n":670000,"v":0.9062},{"p":"d","s":"G1b","n":1600000,"v":0.9068},{"p":"d","s":"G1b","n":4300000,"v":0.9098},{"p":"d","s":"G1b","n":5000000,"v":0.91}
  ],
  "seg": [
   {"p":"b","xa":11600,"xb":4350000,"ya":1.031,"yb":1.031},
   {"p":"b","xa":11600,"xb":4350000,"ya":0.906,"yb":0.906},
   {"p":"b","xa":11600,"xb":11600,"ya":0.906,"yb":1.031},
   {"p":"c","xa":11700,"xb":6470000,"ya":1.048,"yb":1.048},
   {"p":"c","xa":11700,"xb":6470000,"ya":0.913,"yb":0.913},
   {"p":"c","xa":11700,"xb":11700,"ya":0.913,"yb":1.048},
   {"p":"c","xa":6470000,"xb":6470000,"ya":0.913,"yb":1.048},
   {"p":"d","xa":11600,"xb":4350000,"ya":0.942,"yb":0.942},
   {"p":"d","xa":11600,"xb":4350000,"ya":0.81,"yb":0.81},
   {"p":"d","xa":11600,"xb":11600,"ya":0.81,"yb":0.942}
  ],
  "arr": [
   {"p":"b","n":263000,"ya":0.906,"yb":0.689},
   {"p":"c","n":286000,"ya":0.913,"yb":0.668},
   {"p":"d","n":263000,"ya":0.81,"yb":0.66}
  ]
 },
 "concat": [
  {
   "width": 476, "height": 253,
   "title": {"text": "2", "orient": "left", "anchor": "middle", "align": "left", "baseline": "alphabetic", "offset": -43, "fontSize": 17},
   "layer": [
    {"data": {"name": "main"}, "transform": [{"filter": "datum.p == 'a'"}],
     "mark": {"type": "line", "strokeWidth": 1.9, "clip": true},
     "encoding": {
      "x": {"field": "n", "type": "quantitative", "scale": {"type": "log", "domain": [1, 5000000], "nice": false},
            "axis": {"title": "# Generated molecules", "titleFontSize": 21, "titleY": 64, "titleBaseline": "alphabetic", "labelPadding": 38, "labelBaseline": "alphabetic", "labelFontSize": 19, "labelFlush": false, "labelOverlap": false,
                     "values": [1,2,3,4,5,6,7,8,9,10,20,30,40,50,60,70,80,90,100,200,300,400,500,600,700,800,900,1000,2000,3000,4000,5000,6000,7000,8000,9000,10000,20000,30000,40000,50000,60000,70000,80000,90000,100000,200000,300000,400000,500000,600000,700000,800000,900000,1000000,2000000,3000000,4000000,5000000],
                     "labelExpr": "datum.value === 1 ? '10⁰' : datum.value === 100 ? '10²' : datum.value === 10000 ? '10⁴' : datum.value === 1000000 ? '10⁶' : ''"}},
      "y": {"field": "v", "type": "quantitative", "scale": {"domain": [0, 1], "nice": false},
            "axis": {"title": "I", "titleFontSize": 22, "titleAngle": 270, "titleAlign": "right", "titleBaseline": "alphabetic", "titleX": -56, "titleY": 127.5, "values": [0, 0.2, 0.4, 0.6, 0.8, 1], "format": "~g", "labelPadding": 14, "labelFontSize": 19}},
      "color": {"field": "s", "type": "nominal", "title": null,
                "scale": {"domain": ["F0","F1a","F1b","G1a","G1b"], "range": ["#0072BD","#D95319","#EDB120","#7E2F8E","#77AC30"]},
                "legend": {"orient": "none", "legendX": 356, "legendY": 684, "direction": "horizontal", "symbolType": "stroke", "symbolSize": 1089, "symbolStrokeWidth": 2, "labelFontSize": 20, "labelFont": "Liberation Sans", "labelColor": "#262626", "columnPadding": 4, "labelOffset": 4, "padding": 0}}
     }}
   ]
  },
  {
   "width": 482, "height": 253,
   "title": {"text": "2b", "orient": "left", "anchor": "middle", "align": "left", "baseline": "alphabetic", "offset": -43, "fontSize": 17},
   "layer": [
    {"layer": [
     {"data": {"name": "main"}, "transform": [{"filter": "datum.p == 'b'"}],
      "mark": {"type": "line", "strokeWidth": 1.9, "clip": true},
      "encoding": {
       "x": {"field": "n", "type": "quantitative", "title": "# Generated molecules", "scale": {"type": "log", "domain": [1, 4350000], "nice": false},
             "axis": {"title": "# Generated molecules", "titleFontSize": 21, "titleY": 64, "titleBaseline": "alphabetic", "labelPadding": 38, "labelBaseline": "alphabetic", "labelFontSize": 19, "labelFlush": false, "labelOverlap": false,
                      "values": [1,2,3,4,5,6,7,8,9,10,20,30,40,50,60,70,80,90,100,200,300,400,500,600,700,800,900,1000,2000,3000,4000,5000,6000,7000,8000,9000,10000,20000,30000,40000,50000,60000,70000,80000,90000,100000,200000,300000,400000,500000,600000,700000,800000,900000,1000000,2000000,3000000,4000000],
                      "labelExpr": "datum.value === 1 ? '10⁰' : datum.value === 100 ? '10²' : datum.value === 10000 ? '10⁴' : datum.value === 1000000 ? '10⁶' : ''"}},
       "y": {"field": "v", "type": "quantitative", "title": "I", "scale": {"domain": [0, 1], "nice": false},
             "axis": {"title": "I", "titleFontSize": 22, "titleAngle": 270, "titleAlign": "right", "titleBaseline": "alphabetic", "titleX": -56, "titleY": 127.5, "values": [0, 0.2, 0.4, 0.6, 0.8, 1], "format": "~g", "labelPadding": 14, "labelFontSize": 19}},
       "color": {"field": "s", "type": "nominal", "title": null, "scale": {"domain": ["F0","F1a","F1b","G1a","G1b"], "range": ["#0072BD","#D95319","#EDB120","#7E2F8E","#77AC30"]}}
      }},
     {"data": {"name": "seg"}, "transform": [{"filter": "datum.p == 'b'"}],
      "mark": {"type": "rule", "color": "#000000", "strokeWidth": 1.4},
      "encoding": {"x": {"field": "xa", "type": "quantitative", "title": "# Generated molecules"}, "x2": {"field": "xb"}, "y": {"field": "ya", "type": "quantitative", "title": "I"}, "y2": {"field": "yb"}}},
     {"data": {"name": "arr"}, "transform": [{"filter": "datum.p == 'b'"}],
      "mark": {"type": "rule", "color": "#000000", "strokeWidth": 1.4},
      "encoding": {"x": {"field": "n", "type": "quantitative", "title": "# Generated molecules"}, "y": {"field": "ya", "type": "quantitative", "title": "I"}, "y2": {"field": "yb"}}},
     {"data": {"name": "arr"}, "transform": [{"filter": "datum.p == 'b'"}],
      "mark": {"type": "point", "shape": "M-0.7,-1.8L0.7,-1.8L0,0Z", "filled": true, "color": "#000000", "opacity": 1, "size": 144},
      "encoding": {"x": {"field": "n", "type": "quantitative", "title": "# Generated molecules"}, "y": {"field": "yb", "type": "quantitative", "title": "I"}}}
    ]},
    {"data": {"name": "inset"}, "transform": [{"filter": "datum.p == 'b'"}],
     "mark": {"type": "line", "strokeWidth": 1.9, "clip": true},
     "encoding": {
      "x": {"field": "n", "type": "quantitative", "scale": {"type": "log", "domain": [10000, 3950000], "range": [293.5, 482], "nice": false},
            "axis": {"orient": "bottom", "offset": -68.7, "labels": false, "title": null,
                     "values": [20000,30000,40000,50000,60000,70000,80000,90000,100000,200000,300000,400000,500000,600000,700000,800000,900000,1000000,2000000,3000000]}},
      "y": {"field": "v", "type": "quantitative", "scale": {"domain": [0.995, 1], "range": [184.3, 87.5], "nice": false, "zero": false},
            "axis": {"orient": "left", "offset": -293.5, "title": null, "values": [0.995, 1], "format": "~g", "labelFontSize": 16, "labelPadding": 11}},
      "color": {"field": "s", "type": "nominal", "title": null, "scale": {"domain": ["F0","F1a","F1b","G1a","G1b"], "range": ["#0072BD","#D95319","#EDB120","#7E2F8E","#77AC30"]}}
     }}
   ],
   "resolve": {"scale": {"x": "independent", "y": "independent"}}
  },
  {
   "width": 476, "height": 241,
   "title": {"text": "2c", "orient": "left", "anchor": "middle", "align": "left", "baseline": "alphabetic", "offset": -43, "fontSize": 17},
   "layer": [
    {"layer": [
     {"data": {"name": "main"}, "transform": [{"filter": "datum.p == 'c'"}],
      "mark": {"type": "line", "strokeWidth": 1.9, "clip": true},
      "encoding": {
       "x": {"field": "n", "type": "quantitative", "title": "# Generated molecules", "scale": {"type": "log", "domain": [1, 5000000], "nice": false},
             "axis": {"title": "# Generated molecules", "titleFontSize": 21, "titleY": 64, "titleBaseline": "alphabetic", "labelPadding": 38, "labelBaseline": "alphabetic", "labelFontSize": 19, "labelFlush": false, "labelOverlap": false,
                      "values": [1,2,3,4,5,6,7,8,9,10,20,30,40,50,60,70,80,90,100,200,300,400,500,600,700,800,900,1000,2000,3000,4000,5000,6000,7000,8000,9000,10000,20000,30000,40000,50000,60000,70000,80000,90000,100000,200000,300000,400000,500000,600000,700000,800000,900000,1000000,2000000,3000000,4000000,5000000],
                      "labelExpr": "datum.value === 1 ? '10⁰' : datum.value === 100 ? '10²' : datum.value === 10000 ? '10⁴' : datum.value === 1000000 ? '10⁶' : ''"}},
       "y": {"field": "v", "type": "quantitative", "title": "I", "scale": {"domain": [0, 1], "nice": false},
             "axis": {"title": "I", "titleFontSize": 22, "titleAngle": 270, "titleAlign": "right", "titleBaseline": "alphabetic", "titleX": -56, "titleY": 121.5, "values": [0, 0.2, 0.4, 0.6, 0.8, 1], "format": "~g", "labelPadding": 14, "labelFontSize": 19}},
       "color": {"field": "s", "type": "nominal", "title": null, "scale": {"domain": ["F0","F1a","F1b","G1a","G1b"], "range": ["#0072BD","#D95319","#EDB120","#7E2F8E","#77AC30"]}}
      }},
     {"data": {"name": "seg"}, "transform": [{"filter": "datum.p == 'c'"}],
      "mark": {"type": "rule", "color": "#000000", "strokeWidth": 1.4},
      "encoding": {"x": {"field": "xa", "type": "quantitative", "title": "# Generated molecules"}, "x2": {"field": "xb"}, "y": {"field": "ya", "type": "quantitative", "title": "I"}, "y2": {"field": "yb"}}},
     {"data": {"name": "arr"}, "transform": [{"filter": "datum.p == 'c'"}],
      "mark": {"type": "rule", "color": "#000000", "strokeWidth": 1.4},
      "encoding": {"x": {"field": "n", "type": "quantitative", "title": "# Generated molecules"}, "y": {"field": "ya", "type": "quantitative", "title": "I"}, "y2": {"field": "yb"}}},
     {"data": {"name": "arr"}, "transform": [{"filter": "datum.p == 'c'"}],
      "mark": {"type": "point", "shape": "M-0.7,-1.8L0.7,-1.8L0,0Z", "filled": true, "color": "#000000", "opacity": 1, "size": 144},
      "encoding": {"x": {"field": "n", "type": "quantitative", "title": "# Generated molecules"}, "y": {"field": "yb", "type": "quantitative", "title": "I"}}}
    ]},
    {"data": {"name": "inset"}, "transform": [{"filter": "datum.p == 'c'"}],
     "mark": {"type": "line", "strokeWidth": 1.9, "clip": true},
     "encoding": {
      "x": {"field": "n", "type": "quantitative", "scale": {"type": "log", "domain": [10000, 5000000], "range": [289, 476], "nice": false},
            "axis": {"orient": "bottom", "offset": -57.5, "labels": false, "title": null,
                     "values": [20000,30000,40000,50000,60000,70000,80000,90000,100000,200000,300000,400000,500000,600000,700000,800000,900000,1000000,2000000,3000000,4000000]}},
      "y": {"field": "v", "type": "quantitative", "scale": {"domain": [0.99945, 1.00002], "range": [183.5, 87.3], "nice": false, "zero": false},
            "axis": {"orient": "left", "offset": -289, "title": null, "values": [0.9995, 1], "format": "~g", "labelFontSize": 16, "labelPadding": 11}},
      "color": {"field": "s", "type": "nominal", "title": null, "scale": {"domain": ["F0","F1a","F1b","G1a","G1b"], "range": ["#0072BD","#D95319","#EDB120","#7E2F8E","#77AC30"]}}
     }}
   ],
   "resolve": {"scale": {"x": "independent", "y": "independent"}}
  },
  {
   "width": 482, "height": 241,
   "title": {"text": "2d", "orient": "left", "anchor": "middle", "align": "left", "baseline": "alphabetic", "offset": -43, "fontSize": 17},
   "layer": [
    {"layer": [
     {"data": {"name": "main"}, "transform": [{"filter": "datum.p == 'd'"}],
      "mark": {"type": "line", "strokeWidth": 1.9, "clip": true},
      "encoding": {
       "x": {"field": "n", "type": "quantitative", "title": "# Generated molecules", "scale": {"type": "log", "domain": [1, 4350000], "nice": false},
             "axis": {"title": "# Generated molecules", "titleFontSize": 21, "titleY": 64, "titleBaseline": "alphabetic", "labelPadding": 38, "labelBaseline": "alphabetic", "labelFontSize": 19, "labelFlush": false, "labelOverlap": false,
                      "values": [1,2,3,4,5,6,7,8,9,10,20,30,40,50,60,70,80,90,100,200,300,400,500,600,700,800,900,1000,2000,3000,4000,5000,6000,7000,8000,9000,10000,20000,30000,40000,50000,60000,70000,80000,90000,100000,200000,300000,400000,500000,600000,700000,800000,900000,1000000,2000000,3000000,4000000],
                      "labelExpr": "datum.value === 1 ? '10⁰' : datum.value === 100 ? '10²' : datum.value === 10000 ? '10⁴' : datum.value === 1000000 ? '10⁶' : ''"}},
       "y": {"field": "v", "type": "quantitative", "title": "I", "scale": {"domain": [0, 1], "nice": false},
             "axis": {"title": "I", "titleFontSize": 22, "titleAngle": 270, "titleAlign": "right", "titleBaseline": "alphabetic", "titleX": -56, "titleY": 121.5, "values": [0, 0.2, 0.4, 0.6, 0.8, 1], "format": "~g", "labelPadding": 14, "labelFontSize": 19}},
       "color": {"field": "s", "type": "nominal", "title": null, "scale": {"domain": ["F0","F1a","F1b","G1a","G1b"], "range": ["#0072BD","#D95319","#EDB120","#7E2F8E","#77AC30"]}}
      }},
     {"data": {"name": "seg"}, "transform": [{"filter": "datum.p == 'd'"}],
      "mark": {"type": "rule", "color": "#000000", "strokeWidth": 1.4},
      "encoding": {"x": {"field": "xa", "type": "quantitative", "title": "# Generated molecules"}, "x2": {"field": "xb"}, "y": {"field": "ya", "type": "quantitative", "title": "I"}, "y2": {"field": "yb"}}},
     {"data": {"name": "arr"}, "transform": [{"filter": "datum.p == 'd'"}],
      "mark": {"type": "rule", "color": "#000000", "strokeWidth": 1.4},
      "encoding": {"x": {"field": "n", "type": "quantitative", "title": "# Generated molecules"}, "y": {"field": "ya", "type": "quantitative", "title": "I"}, "y2": {"field": "yb"}}},
     {"data": {"name": "arr"}, "transform": [{"filter": "datum.p == 'd'"}],
      "mark": {"type": "point", "shape": "M-0.7,-1.8L0.7,-1.8L0,0Z", "filled": true, "color": "#000000", "opacity": 1, "size": 144},
      "encoding": {"x": {"field": "n", "type": "quantitative", "title": "# Generated molecules"}, "y": {"field": "yb", "type": "quantitative", "title": "I"}}}
    ]},
    {"data": {"name": "inset"}, "transform": [{"filter": "datum.p == 'd'"}],
     "mark": {"type": "line", "strokeWidth": 1.9, "clip": true},
     "encoding": {
      "x": {"field": "n", "type": "quantitative", "scale": {"type": "log", "domain": [10000, 3950000], "range": [294, 482.5], "nice": false},
            "axis": {"orient": "bottom", "offset": -62, "labels": false, "title": null,
                     "values": [20000,30000,40000,50000,60000,70000,80000,90000,100000,200000,300000,400000,500000,600000,700000,800000,900000,1000000,2000000,3000000]}},
      "y": {"field": "v", "type": "quantitative", "scale": {"domain": [0.8373, 0.909], "range": [179, 98.1], "nice": false, "zero": false},
            "axis": {"orient": "left", "offset": -294, "title": null, "values": [0.85, 0.9], "format": "~g", "labelFontSize": 16, "labelPadding": 11}},
      "color": {"field": "s", "type": "nominal", "title": null, "scale": {"domain": ["F0","F1a","F1b","G1a","G1b"], "range": ["#0072BD","#D95319","#EDB120","#7E2F8E","#77AC30"]}}
     }}
   ],
   "resolve": {"scale": {"x": "independent", "y": "independent"}}
  }
 ],
 "config": {
  "view": {"stroke": null},
  "font": "Liberation Sans",
  "title": {"font": "Liberation Sans", "fontWeight": "normal", "color": "#262626"},
  "axis": {"grid": false, "domainColor": "#262626", "tickColor": "#262626", "labelColor": "#262626", "titleColor": "#262626", "labelFont": "Liberation Sans", "titleFont": "Liberation Sans", "titleFontWeight": "normal", "tickSize": -3, "domainWidth": 1.2, "tickWidth": 1.2}
 }
}
